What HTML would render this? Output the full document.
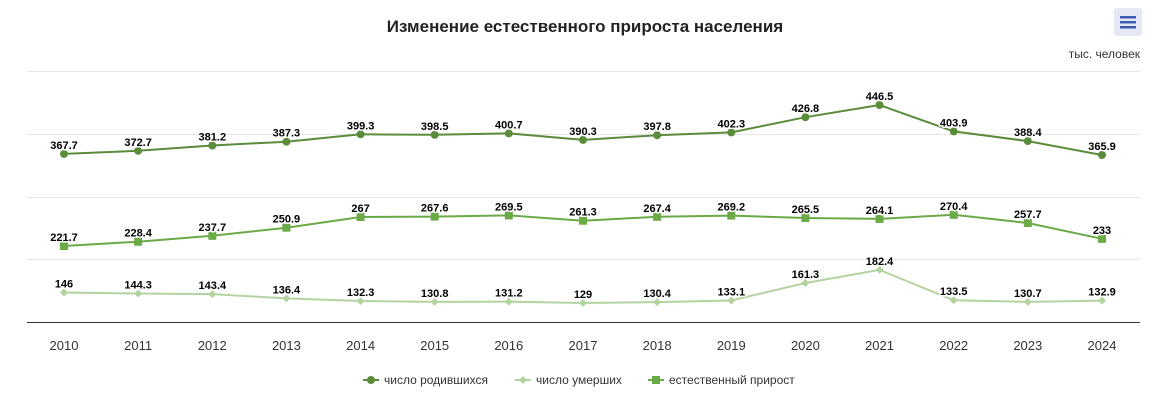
<!DOCTYPE html><html><head><meta charset="utf-8"><style>body{margin:0;background:#fff}svg{display:block;font-family:"Liberation Sans",sans-serif}</style></head><body>
<svg width="1162" height="401" viewBox="0 0 1162 401">
<text x="585" y="32" text-anchor="middle" font-size="17" font-weight="bold" fill="#222">Изменение естественного прироста населения</text>
<rect x="1114" y="8" width="28" height="28" rx="3" fill="#e6e9f5"/>
<rect x="1120" y="16" width="16" height="2.5" fill="#3d5ab5"/><rect x="1120" y="21" width="16" height="2.5" fill="#3d5ab5"/><rect x="1120" y="26" width="16" height="2.5" fill="#3d5ab5"/>
<text x="1140" y="58" text-anchor="end" font-size="12" fill="#333">тыс. человек</text>
<g stroke="#e6e6e6" stroke-width="1"><line x1="27" x2="1140" y1="71.5" y2="71.5"/><line x1="27" x2="1140" y1="134.5" y2="134.5"/><line x1="27" x2="1140" y1="197.5" y2="197.5"/><line x1="27" x2="1140" y1="259.5" y2="259.5"/></g>
<line x1="27" x2="1140" y1="322.5" y2="322.5" stroke="#333"/>
<g font-size="13" fill="#333" text-anchor="middle"><text x="64" y="350">2010</text><text x="138.1" y="350">2011</text><text x="212.3" y="350">2012</text><text x="286.4" y="350">2013</text><text x="360.6" y="350">2014</text><text x="434.7" y="350">2015</text><text x="508.8" y="350">2016</text><text x="583" y="350">2017</text><text x="657.1" y="350">2018</text><text x="731.3" y="350">2019</text><text x="805.4" y="350">2020</text><text x="879.5" y="350">2021</text><text x="953.7" y="350">2022</text><text x="1027.8" y="350">2023</text><text x="1102" y="350">2024</text></g>
<polyline fill="none" stroke="#5b8c3a" stroke-width="2" points="64,153.9 138.1,150.8 212.3,145.5 286.4,141.7 360.6,134.3 434.7,134.8 508.8,133.4 583,139.9 657.1,135.2 731.3,132.4 805.4,117.2 879.5,105 953.7,131.4 1027.8,141.1 1102,155"/>
<g fill="#5b8c3a"><circle cx="64" cy="153.9" r="4"/><circle cx="138.1" cy="150.8" r="4"/><circle cx="212.3" cy="145.5" r="4"/><circle cx="286.4" cy="141.7" r="4"/><circle cx="360.6" cy="134.3" r="4"/><circle cx="434.7" cy="134.8" r="4"/><circle cx="508.8" cy="133.4" r="4"/><circle cx="583" cy="139.9" r="4"/><circle cx="657.1" cy="135.2" r="4"/><circle cx="731.3" cy="132.4" r="4"/><circle cx="805.4" cy="117.2" r="4"/><circle cx="879.5" cy="105" r="4"/><circle cx="953.7" cy="131.4" r="4"/><circle cx="1027.8" cy="141.1" r="4"/><circle cx="1102" cy="155" r="4"/></g>
<polyline fill="none" stroke="#6aaa47" stroke-width="2" points="64,246 138.1,241.7 212.3,235.8 286.4,227.7 360.6,217 434.7,216.6 508.8,215.4 583,220.7 657.1,216.8 731.3,215.6 805.4,218 879.5,218.9 953.7,214.8 1027.8,223 1102,238.8"/>
<g fill="#6aaa47"><rect x="60" y="242" width="8" height="8"/><rect x="134.1" y="237.7" width="8" height="8"/><rect x="208.3" y="231.8" width="8" height="8"/><rect x="282.4" y="223.7" width="8" height="8"/><rect x="356.6" y="213" width="8" height="8"/><rect x="430.7" y="212.6" width="8" height="8"/><rect x="504.8" y="211.4" width="8" height="8"/><rect x="579" y="216.7" width="8" height="8"/><rect x="653.1" y="212.8" width="8" height="8"/><rect x="727.3" y="211.6" width="8" height="8"/><rect x="801.4" y="214" width="8" height="8"/><rect x="875.5" y="214.9" width="8" height="8"/><rect x="949.7" y="210.8" width="8" height="8"/><rect x="1023.8" y="219" width="8" height="8"/><rect x="1098" y="234.8" width="8" height="8"/></g>
<polyline fill="none" stroke="#b3d4a0" stroke-width="2" points="64,292.5 138.1,293.5 212.3,294.1 286.4,298.4 360.6,301 434.7,301.9 508.8,301.6 583,303 657.1,302.1 731.3,300.5 805.4,283 879.5,269.9 953.7,300.2 1027.8,301.9 1102,300.6"/>
<g fill="#b3d4a0">
<path d="M64 288.5l4 4-4 4-4-4z"/><path d="M138.1 289.5l4 4-4 4-4-4z"/><path d="M212.3 290.1l4 4-4 4-4-4z"/><path d="M286.4 294.4l4 4-4 4-4-4z"/><path d="M360.6 297l4 4-4 4-4-4z"/><path d="M434.7 297.9l4 4-4 4-4-4z"/><path d="M508.8 297.6l4 4-4 4-4-4z"/><path d="M583 299l4 4-4 4-4-4z"/><path d="M657.1 298.1l4 4-4 4-4-4z"/><path d="M731.3 296.5l4 4-4 4-4-4z"/><path d="M805.4 279l4 4-4 4-4-4z"/><path d="M879.5 265.9l4 4-4 4-4-4z"/><path d="M953.7 296.2l4 4-4 4-4-4z"/><path d="M1027.8 297.9l4 4-4 4-4-4z"/><path d="M1102 296.6l4 4-4 4-4-4z"/></g>
<g font-size="11" font-weight="bold" fill="#000" text-anchor="middle" stroke="#fff" stroke-width="3" paint-order="stroke" stroke-linejoin="round">
<text x="64" y="149">367.7</text><text x="138.1" y="146">372.7</text><text x="212.3" y="140.5">381.2</text><text x="286.4" y="136.7">387.3</text><text x="360.6" y="129.3">399.3</text><text x="434.7" y="129.8">398.5</text><text x="508.8" y="128.4">400.7</text><text x="583" y="134.9">390.3</text><text x="657.1" y="130.2">397.8</text><text x="731.3" y="127.4">402.3</text><text x="805.4" y="112.2">426.8</text><text x="879.5" y="100">446.5</text><text x="953.7" y="126.4">403.9</text><text x="1027.8" y="136.1">388.4</text><text x="1102" y="150">365.9</text>
<text x="64" y="241">221.7</text><text x="138.1" y="236.7">228.4</text><text x="212.3" y="230.8">237.7</text><text x="286.4" y="222.7">250.9</text><text x="360.6" y="212">267</text><text x="434.7" y="211.6">267.6</text><text x="508.8" y="210.4">269.5</text><text x="583" y="215.7">261.3</text><text x="657.1" y="211.8">267.4</text><text x="731.3" y="210.6">269.2</text><text x="805.4" y="213">265.5</text><text x="879.5" y="213.9">264.1</text><text x="953.7" y="209.8">270.4</text><text x="1027.8" y="218">257.7</text><text x="1102" y="233.8">233</text>
<text x="64" y="287.5">146</text><text x="138.1" y="288.5">144.3</text><text x="212.3" y="289.1">143.4</text><text x="286.4" y="293.4">136.4</text><text x="360.6" y="296">132.3</text><text x="434.7" y="296.9">130.8</text><text x="508.8" y="296.6">131.2</text><text x="583" y="298">129</text><text x="657.1" y="297.1">130.4</text><text x="731.3" y="295.5">133.1</text><text x="805.4" y="278">161.3</text><text x="879.5" y="264.9">182.4</text><text x="953.7" y="295.2">133.5</text><text x="1027.8" y="296.9">130.7</text><text x="1102" y="295.6">132.9</text></g>
<g font-size="12" fill="#333">
<line x1="363" x2="379" y1="380" y2="380" stroke="#5b8c3a" stroke-width="2"/><circle cx="371" cy="380" r="4" fill="#5b8c3a"/><text x="384" y="384">число родившихся</text>
<line x1="515" x2="531" y1="380" y2="380" stroke="#b3d4a0" stroke-width="2"/><path d="M523 376l4 4-4 4-4-4z" fill="#b3d4a0"/><text x="536" y="384">число умерших</text>
<line x1="648" x2="664" y1="380" y2="380" stroke="#6aaa47" stroke-width="2"/><rect x="652" y="376" width="8" height="8" fill="#6aaa47"/><text x="669" y="384">естественный прирост</text></g>
</svg></body></html>
